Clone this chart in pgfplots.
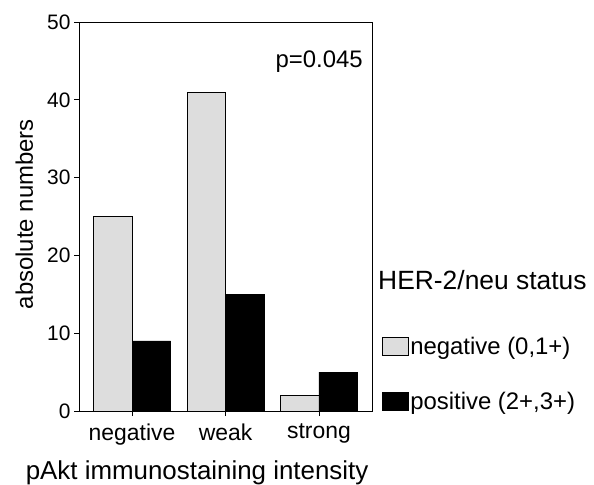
\documentclass[border=0pt]{standalone}
\usepackage{fontspec}
\setmainfont{Liberation Sans}
\usepackage{pgfplots}
\pgfplotsset{compat=1.18}
\definecolor{barGray}{HTML}{DDDDDD}
\begin{document}
\begin{tikzpicture}
\path[use as bounding box] (-79bp,-74bp) rectangle (515bp,411bp);
\begin{axis}[
  at={(0,0)}, anchor=south west,
  scale only axis, width=293bp, height=389bp,
  ybar=0pt, bar width=38.5bp,
  xmin=-0.567, xmax=2.567, ymin=0, ymax=50,
  xtick={0,1,2}, xticklabels={negative,weak,strong},
  ytick={0,10,...,50},
  tick align=outside, xtick pos=lower, ytick pos=left,
  major tick length=5bp,
  axis line style={line width=0.8bp},
  every tick/.style={black, line width=0.8bp},
  xticklabel style={font=\fontsize{23}{27}\selectfont, yshift=-4bp},
  yticklabel style={font=\fontsize{21}{25}\selectfont},
  /pgf/number format/assume math mode=true,
  xlabel={pAkt immunostaining intensity},
  ylabel={absolute numbers},
  xlabel style={font=\fontsize{26}{30}\selectfont, at={(axis description cs:0.403,-0.175)}, anchor=base},
  ylabel style={font=\fontsize{24}{28}\selectfont, at={(axis description cs:-0.157,0.506)}, anchor=base},
  legend style={draw=none, fill=none, at={(1.034,0.095)}, anchor=west, inner sep=0pt,
    font=\fontsize{24}{28}\selectfont, row sep=32bp, nodes={inner xsep=1.5bp}},
  legend cell align=left,
  legend image code/.code={\draw[#1, line width=0.6bp] (0bp,-9bp) rectangle (26bp,9bp);},
  clip=false,
]
\addplot[fill=barGray, draw=black, line width=0.8bp] coordinates {(0,25) (1,41) (2,2)};
\addplot[fill=black, draw=black, line width=0.8bp] coordinates {(0,9) (1,15) (2,5)};
\addlegendentry{negative (0,1+)}
\addlegendentry{positive (2+,3+)}
\node[anchor=base east, font=\fontsize{24}{28}\selectfont, inner sep=0pt] at (axis description cs:0.969,0.884) {p=0.045};
\node[anchor=base west, font=\fontsize{26.5}{30}\selectfont, inner sep=0pt] at (axis description cs:1.0205,0.3136) {HER-2/neu status};
\end{axis}
\end{tikzpicture}
\end{document}
